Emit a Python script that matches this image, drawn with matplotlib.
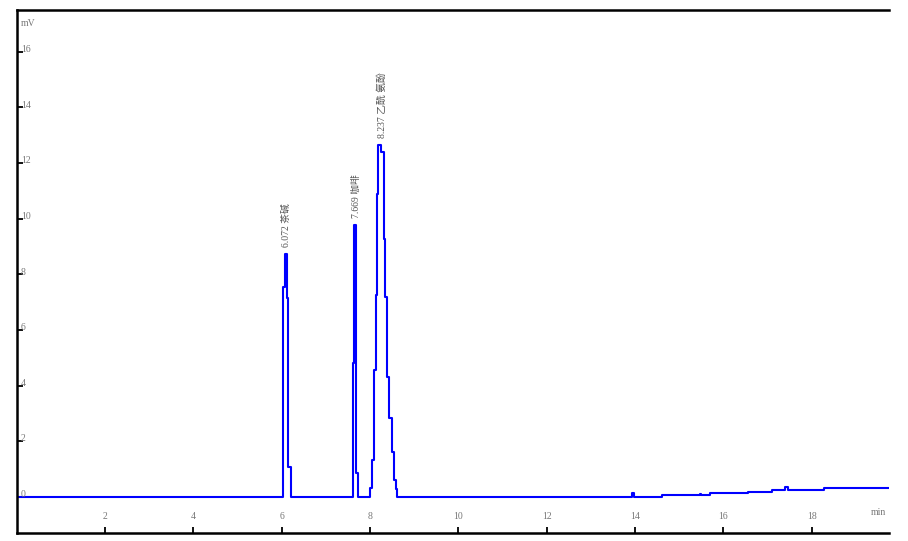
import matplotlib.pyplot as plt

plt.rcParams['font.family'] = ['Liberation Serif', 'Noto Sans CJK SC', 'DejaVu Sans']

# chromatogram (time in min, signal in mV)
t = [0.0, 6.036, 6.074, 6.113, 6.149, 6.204,
     7.606, 7.643, 7.680, 7.733,
     8.000, 8.036, 8.090, 8.130, 8.150, 8.175, 8.250, 8.314, 8.350,
     8.390, 8.430, 8.490, 8.540, 8.590, 8.620,
     13.93, 13.97, 14.60, 15.46, 15.50, 15.69, 16.55, 17.10, 17.40,
     17.46, 18.27, 19.75]
mv = [0.0, 7.55, 8.74, 7.16, 1.07, 0.0,
      4.80, 9.78, 0.86, 0.0,
      0.33, 1.33, 4.57, 7.27, 10.9, 12.66, 12.4, 9.28, 7.20,
      4.30, 2.84, 1.62, 0.61, 0.29, 0.0,
      0.15, 0.0, 0.06, 0.10, 0.06, 0.12, 0.18, 0.23, 0.35,
      0.23, 0.30, 0.30]

peak_t = [6.072, 7.669, 8.237]
peak_h = [8.74, 9.78, 12.66]
peak_names = ['茶碱', '咖啡', '乙酰 氨酚']

xticks = [2, 4, 6, 8, 10, 12, 14, 16, 18]
yticks = [0, 2, 4, 6, 8, 10, 12, 14, 16]

fig = plt.figure(figsize=(9.08, 5.41), dpi=100)
ax = fig.add_axes([0.0182, 0.0148, 0.9609, 0.9667])

ax.plot(t, mv, drawstyle='steps-post', color='#0000ff', linewidth=1.5)
ax.set_xlim(0, 19.75)
ax.set_ylim(-1.3, 17.5)

for s in ['left', 'top', 'bottom']:
    ax.spines[s].set_linewidth(1.8)
ax.spines['right'].set_visible(False)

ax.set_xticks(xticks)
ax.set_yticks(yticks)
ax.tick_params(direction='in', length=4, width=1.3, labelbottom=False, labelleft=False)

lab = dict(fontsize=7, color='#777777')
for v in xticks:
    ax.text(v, 0.032, str(v), transform=ax.get_xaxis_transform(), ha='center', va='center', **lab)
for v in yticks:
    ax.text(0.005, v + 0.08, str(v), transform=ax.get_yaxis_transform(), ha='left', va='center', **lab)
ax.text(0.005, 0.975, 'mV', transform=ax.transAxes, ha='left', va='center', **lab)
ax.text(0.988, 0.04, 'min', transform=ax.transAxes, ha='center', va='center', **lab)

for pt, ph, name in zip(peak_t, peak_h, peak_names):
    ax.text(pt + 0.03, ph + 0.25, f'{pt:.3f} {name}', rotation=90, ha='center', va='bottom',
            fontsize=7, color='#555555')

fig.savefig('out.png', dpi=100)
